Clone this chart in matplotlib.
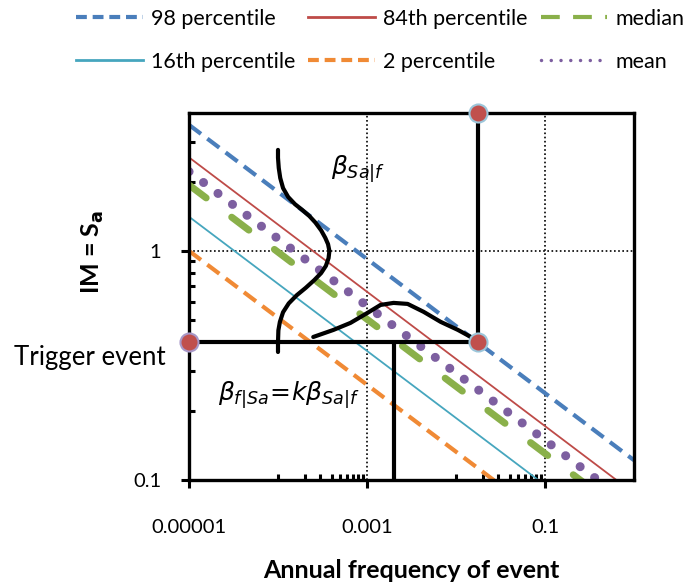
import matplotlib
matplotlib.use("Agg")
import matplotlib.pyplot as plt
from matplotlib.lines import Line2D
from matplotlib.ticker import FixedLocator, NullFormatter

plt.rcParams['font.family'] = ['Lato', 'DejaVu Sans']
plt.rcParams['mathtext.fontset'] = 'dejavusans'

# hazard lines: values at the left (x=1e-5) and right (x=1) edges
x_ends = [1e-5, 1.0]
p98 = [3.55, 0.122]
p84 = [2.56, 0.0875]
mean = [2.22, 0.076]
median = [1.94, 0.0665]
p16 = [1.41, 0.0484]
p02 = [1.0, 0.0346]

# trigger event
trigger_im = 0.4
trigger_freq = 0.0176
median_freq = 0.002
im_top = 4.0

# sketched pdf of Sa given f (vertical bell)
bell_v_x = [1.0e-4, 1.0e-4, 1.02e-4, 1.06e-4, 1.14e-4, 1.30e-4, 1.55e-4, 1.87e-4,
            2.25e-4, 2.63e-4, 3.05e-4, 3.40e-4, 3.65e-4, 3.78e-4, 3.70e-4,
            3.45e-4, 3.05e-4, 2.55e-4, 2.05e-4, 1.62e-4, 1.32e-4, 1.14e-4,
            1.05e-4, 1.01e-4, 1.0e-4, 1.0e-4]
bell_v_y = [2.76, 2.55, 2.30, 2.08, 1.88, 1.72, 1.60, 1.51,
            1.42, 1.33, 1.23, 1.14, 1.07, 1.0, 0.93,
            0.86, 0.80, 0.745, 0.69, 0.64, 0.59, 0.54,
            0.49, 0.45, 0.40, 0.362]

# sketched pdf of f given Sa (horizontal bell)
bell_h_x = [2.49e-4, 4.20e-4, 6.52e-4, 1.01e-3, 1.42e-3, 1.99e-3, 2.86e-3,
            4.33e-3, 6.73e-3, 1.05e-2, 1.47e-2, 1.76e-2]
bell_h_y = [0.421, 0.452, 0.485, 0.536, 0.581, 0.593, 0.587,
            0.542, 0.490, 0.452, 0.421, 0.404]

c_blue = '#4A7EBB'
c_red = '#BE4B48'
c_green = '#8AB04A'
c_purple = '#7D5FA0'
c_teal = '#46A6BE'
c_orange = '#F08A35'
c_dot = '#C0504D'

fig = plt.figure(figsize=(7, 5.86), dpi=100)
ax = fig.add_axes([0.27, 0.1809, 0.6357, 0.6263])
ax.set_xscale('log')
ax.set_yscale('log')
ax.set_xlim(1e-5, 1)
ax.set_ylim(0.1, im_top)

ax.plot(x_ends, p98, color=c_blue, lw=3, dashes=(3.6, 1.9))
ax.plot(x_ends, p84, color=c_red, lw=1.3)
ax.plot(x_ends, p16, color=c_teal, lw=1.3)
ax.plot(x_ends, p02, color=c_orange, lw=3, dashes=(3.6, 1.9))
ax.plot(x_ends, median, color=c_green, lw=5, dashes=(3.1, 4.6), dash_capstyle='round')
ax.plot(x_ends, mean, color=c_purple, lw=6.5, dashes=(0.01, 2.0), dash_capstyle='round')

# trigger lines
ax.plot([1e-5, trigger_freq], [trigger_im, trigger_im], color='black', lw=3, solid_capstyle='butt')
ax.plot([trigger_freq, trigger_freq], [trigger_im, im_top], color='black', lw=3, solid_capstyle='butt')
ax.plot([median_freq, median_freq], [0.1, trigger_im], color='black', lw=3, solid_capstyle='butt')

ax.plot(bell_v_x, bell_v_y, color='black', lw=3, solid_capstyle='round', solid_joinstyle='round')
ax.plot(bell_h_x, bell_h_y, color='black', lw=3, solid_capstyle='round', solid_joinstyle='round')

ax.plot([1e-5], [trigger_im], 'o', color=c_dot, ms=13, mec='#A898C8', mew=1.5, clip_on=False, zorder=10)
ax.plot([trigger_freq, trigger_freq], [trigger_im, im_top], 'o', color=c_dot, ms=13,
        mec='#9CC6DA', mew=1.5, clip_on=False, zorder=10)

ax.text(3.9e-4, 2.3, r'$\beta_{Sa|f}$', fontsize=18, ha='left', va='center')
ax.text(2.1e-5, 0.235, r'$\beta_{f|Sa}\!=\!k\beta_{Sa|f}$', fontsize=18, ha='left', va='center')

# axes styling
for s in ax.spines.values():
    s.set_linewidth(2.4)
ax.xaxis.set_major_locator(FixedLocator([1e-5, 1e-3, 1e-1]))
ax.set_xticklabels(['0.00001', '0.001', '0.1'])
ax.xaxis.set_minor_locator(FixedLocator([1e-4, 2e-4, 3e-4, 4e-4, 5e-4, 6e-4, 7e-4, 8e-4, 9e-4,
                                         1e-2, 2e-2, 3e-2, 4e-2, 5e-2, 6e-2, 7e-2, 8e-2, 9e-2]))
ax.xaxis.set_minor_formatter(NullFormatter())
ax.yaxis.set_major_locator(FixedLocator([0.1, 1]))
ax.set_yticklabels(['0.1', '1'])
ax.yaxis.set_minor_locator(FixedLocator([0.2, 0.3, 0.4, 0.5, 0.6, 0.7, 0.8, 0.9, 2, 3]))
ax.yaxis.set_minor_formatter(NullFormatter())
ax.tick_params(which='major', direction='out', length=6, width=2.2, labelsize=14.5)
ax.tick_params(which='minor', direction='in', length=4.5, width=2.2)
ax.tick_params(axis='x', which='major', pad=22)
ax.tick_params(axis='y', which='major', pad=14)
ax.grid(True, which='major', color='black', ls=(0, (1, 1.5)), lw=1.2)

ax.set_xlabel('Annual frequency of event', fontsize=18, fontweight='bold', labelpad=17)
fig.text(93 / 700, 1 - 252 / 586, r'IM = S$_\mathbf{a}$', rotation=90, fontsize=18,
         fontweight='bold', ha='center', va='center')
fig.text(90 / 700, 1 - 358 / 586, 'Trigger event', fontsize=18.5, ha='center', va='center')

# legend (proxy handles drawn thinner, like the original)
handles = [
    Line2D([], [], color=c_blue, lw=3, dashes=(2.6, 1.4)),
    Line2D([], [], color=c_teal, lw=2),
    Line2D([], [], color=c_red, lw=2),
    Line2D([], [], color=c_orange, lw=3, dashes=(2.6, 1.4)),
    Line2D([], [], color=c_green, lw=3, dashes=(4.5, 3.2)),
    Line2D([], [], color=c_purple, lw=2.5, dashes=(0.01, 2.8), dash_capstyle='round'),
]
labels = ['98 percentile', '16th percentile', '84th percentile', '2 percentile', 'median', 'mean']
fig.legend(handles, labels, ncol=3, loc='upper left', bbox_to_anchor=(76 / 700, 1 - 9 / 586),
           frameon=False, fontsize=15.5, handlelength=3.1, handletextpad=0.38,
           columnspacing=0.6, labelspacing=1.05, borderpad=0, borderaxespad=0)

fig.savefig('out.png', dpi=100)
